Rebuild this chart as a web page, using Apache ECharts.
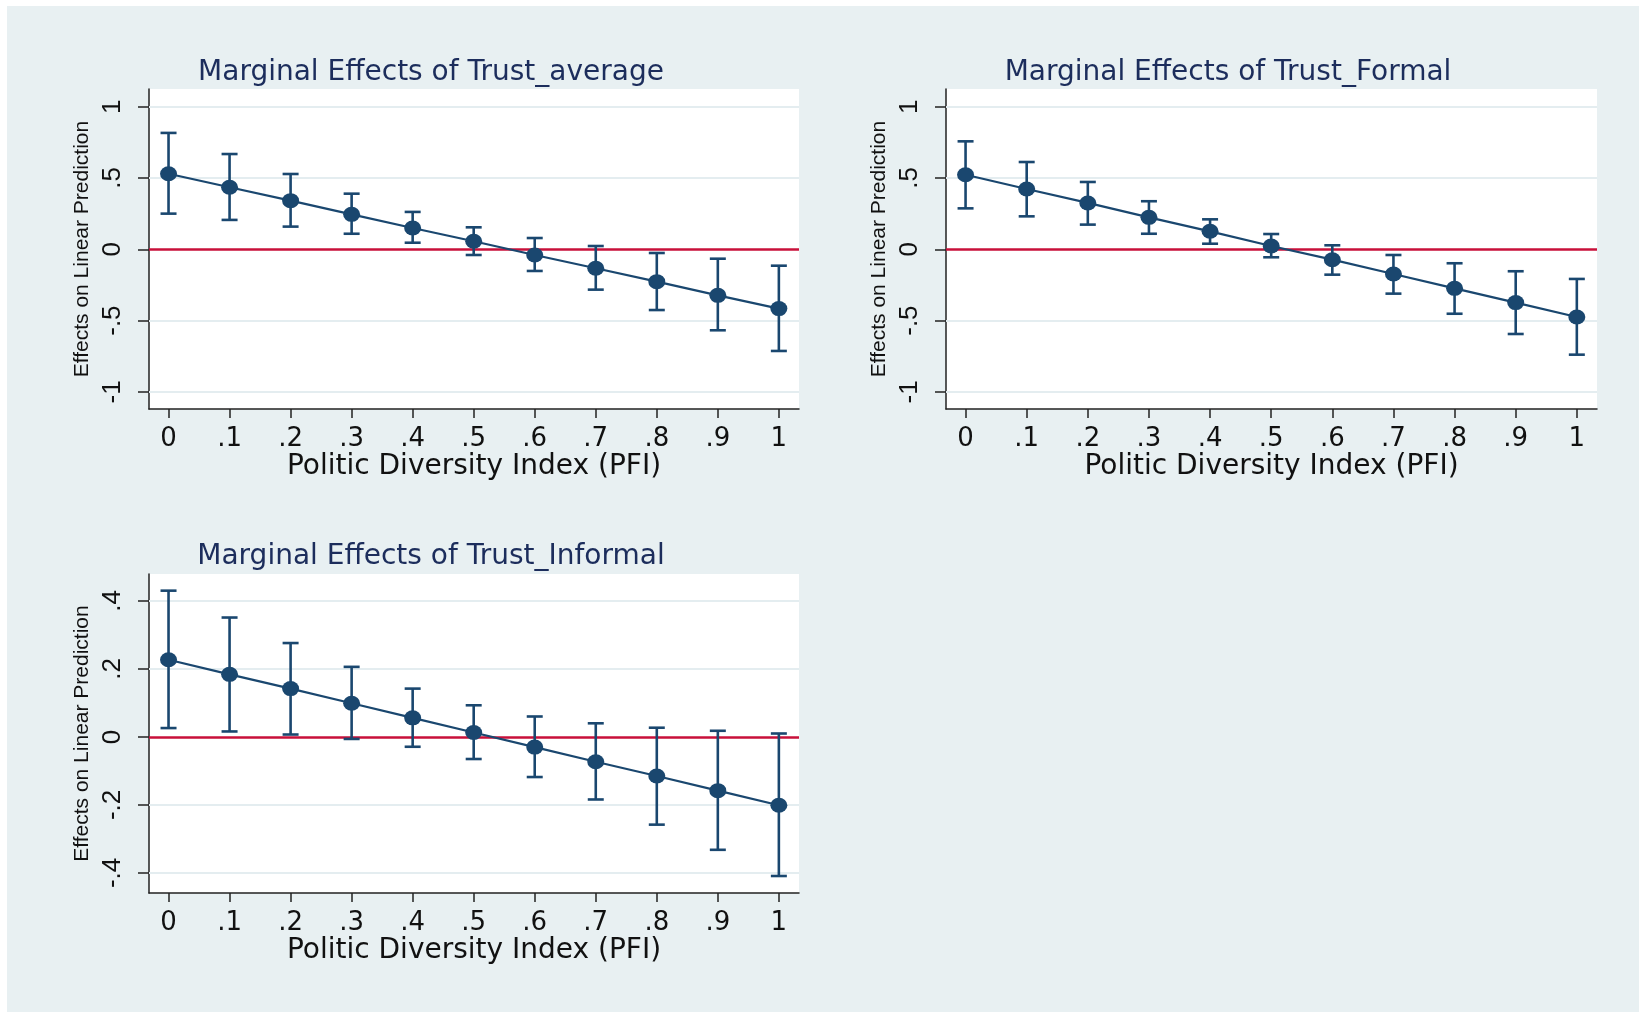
<!DOCTYPE html>
<html>
<head>
<meta charset="utf-8">
<script src="https://cdn.jsdelivr.net/npm/echarts@6/dist/echarts.min.js"></script>
<style>
  html, body { margin: 0; padding: 0; background: #ffffff; }
  #bg { position: absolute; left: 7px; top: 6px; right: 0; bottom: 0; background: #e8f0f2; }
  #chart { position: absolute; left: 0; top: 0; width: 1639px; height: 1012px; }
</style>
</head>
<body>
<div id="bg"></div>
<div id="chart"></div>
<script>
// ---------- data ----------
const pfi = [0, 0.1, 0.2, 0.3, 0.4, 0.5, 0.6, 0.7, 0.8, 0.9, 1];
const xTickLabels = ['0', '.1', '.2', '.3', '.4', '.5', '.6', '.7', '.8', '.9', '1'];

const avgEst = [0.530, 0.435, 0.341, 0.245, 0.149, 0.056, -0.040, -0.133, -0.227, -0.323, -0.416];
const avgHi  = [0.816, 0.668, 0.528, 0.390, 0.262, 0.154, 0.079, 0.023, -0.026, -0.066, -0.115];
const avgLo  = [0.250, 0.206, 0.159, 0.109, 0.046, -0.040, -0.152, -0.283, -0.426, -0.568, -0.713];

const formalEst = [0.523, 0.423, 0.325, 0.224, 0.126, 0.023, -0.073, -0.173, -0.274, -0.374, -0.475];
const formalHi  = [0.757, 0.612, 0.472, 0.337, 0.210, 0.107, 0.028, -0.040, -0.098, -0.154, -0.208];
const formalLo  = [0.287, 0.231, 0.173, 0.109, 0.039, -0.056, -0.178, -0.311, -0.452, -0.594, -0.739];

const informalEst = [0.227, 0.184, 0.142, 0.099, 0.056, 0.013, -0.030, -0.073, -0.115, -0.158, -0.201];
const informalHi  = [0.430, 0.351, 0.276, 0.206, 0.142, 0.093, 0.060, 0.040, 0.027, 0.018, 0.010];
const informalLo  = [0.026, 0.016, 0.007, -0.006, -0.029, -0.065, -0.118, -0.184, -0.258, -0.332, -0.409];

const yTicksWide = [-1, -0.5, 0, 0.5, 1];
const yTickLabelsWide = ['-1', '-.5', '0', '.5', '1'];
const yTicksNarrow = [-0.4, -0.2, 0, 0.2, 0.4];
const yTickLabelsNarrow = ['-.4', '-.2', '0', '.2', '.4'];

const panelTitles = ['Marginal Effects of Trust_average', 'Marginal Effects of Trust_Formal', 'Marginal Effects of Trust_Informal'];
const xAxisTitle = 'Politic Diversity Index (PFI)';
const yAxisTitle = 'Effects on Linear Prediction';

// ---------- styling ----------
const NAVY = '#1a476f';
const RED = '#c8103a';
const GRID = '#e4edf0';
const TITLE = '#1c2d5c';

const panels = [
  { est: avgEst, lo: avgLo, hi: avgHi, yTicks: yTicksWide, yLabels: yTickLabelsWide, yMin: -1.12, yMax: 1.124,
    grid: { left: 149, top: 89, width: 650, height: 320 }, titleX: 431, titleY: 59 },
  { est: formalEst, lo: formalLo, hi: formalHi, yTicks: yTicksWide, yLabels: yTickLabelsWide, yMin: -1.12, yMax: 1.124,
    grid: { left: 946, top: 89, width: 651, height: 320 }, titleX: 1228, titleY: 59 },
  { est: informalEst, lo: informalLo, hi: informalHi, yTicks: yTicksNarrow, yLabels: yTickLabelsNarrow, yMin: -0.459, yMax: 0.479,
    grid: { left: 149, top: 574, width: 650, height: 319 }, titleX: 431, titleY: 543 }
];

function labelFor(ticks, labels) {
  return function (v) {
    for (let i = 0; i < ticks.length; i++) if (Math.abs(ticks[i] - v) < 1e-6) return labels[i];
    return '';
  };
}

const option = {
  animation: false,
  backgroundColor: 'transparent',
  title: [],
  grid: [],
  xAxis: [],
  yAxis: [],
  series: []
};

panels.forEach(function (p, i) {
  option.title.push({
    text: panelTitles[i],
    left: p.titleX, top: p.titleY, textAlign: 'center', padding: 0,
    textStyle: { fontFamily: 'DejaVu Sans', fontSize: 28, fontWeight: 'normal', color: TITLE }
  });
  option.grid.push(Object.assign({ show: true, backgroundColor: '#ffffff', borderWidth: 0 }, p.grid));
  option.xAxis.push({
    type: 'value', gridIndex: i, min: -0.032, max: 1.033,
    axisLine: { show: true, onZero: false, lineStyle: { color: '#222', width: 1.5 } },
    axisTick: { show: true, length: 9, customValues: pfi, lineStyle: { color: '#222', width: 1.5 } },
    axisLabel: { show: true, customValues: pfi, margin: 17, formatter: labelFor(pfi, xTickLabels),
      fontFamily: 'DejaVu Sans', fontSize: 26, color: '#111' },
    splitLine: { show: false },
    name: xAxisTitle, nameLocation: 'middle', nameGap: 44,
    nameTextStyle: { fontFamily: 'DejaVu Sans', fontSize: 28, color: '#111' }
  });
  option.yAxis.push({
    type: 'value', gridIndex: i, min: p.yMin, max: p.yMax,
    axisLine: { show: true, onZero: false, lineStyle: { color: '#222', width: 1.5 } },
    axisTick: { show: true, length: 11, customValues: p.yTicks, lineStyle: { color: '#222', width: 1.5 } },
    axisLabel: { show: true, customValues: p.yTicks, rotate: 90, margin: 23, formatter: labelFor(p.yTicks, p.yLabels),
      fontFamily: 'Liberation Sans', fontSize: 26, color: '#111' },
    splitLine: { show: false },
    name: yAxisTitle, nameLocation: 'middle', nameGap: 56,
    nameTextStyle: { fontFamily: 'Liberation Sans', fontSize: 21, color: '#111' }
  });

  const gridLines = p.yTicks.filter(function (t) { return t !== 0; }).map(function (t) {
    return { yAxis: t, lineStyle: { color: GRID, width: 2, type: 'solid' } };
  });
  gridLines.push({ yAxis: 0, lineStyle: { color: RED, width: 2.5, type: 'solid' } });

  option.series.push({
    type: 'custom', xAxisIndex: i, yAxisIndex: i, z: 3,
    data: pfi.map(function (x, k) { return [x, p.lo[k], p.hi[k]]; }),
    encode: { x: 0, y: [1, 2] },
    renderItem: function (params, api) {
      const x = api.value(0);
      const lo = api.coord([x, api.value(1)]);
      const hi = api.coord([x, api.value(2)]);
      const w = 8;
      const st = { stroke: NAVY, lineWidth: 2.6 };
      return { type: 'group', children: [
        { type: 'line', shape: { x1: lo[0], y1: lo[1], x2: hi[0], y2: hi[1] }, style: st },
        { type: 'line', shape: { x1: hi[0] - w, y1: hi[1], x2: hi[0] + w, y2: hi[1] }, style: st },
        { type: 'line', shape: { x1: lo[0] - w, y1: lo[1], x2: lo[0] + w, y2: lo[1] }, style: st }
      ] };
    }
  });
  option.series.push({
    type: 'line', xAxisIndex: i, yAxisIndex: i, z: 4,
    data: pfi.map(function (x, k) { return [x, p.est[k]]; }),
    symbol: 'circle', symbolSize: [17, 15], showSymbol: true,
    lineStyle: { color: NAVY, width: 2.2 },
    itemStyle: { color: NAVY },
    markLine: {
      silent: true, symbol: ['none', 'none'], z: 1, animation: false,
      label: { show: false },
      data: gridLines
    }
  });
});

const chart = echarts.init(document.getElementById('chart'), null, { renderer: 'canvas' });
chart.setOption(option);
</script>
</body>
</html>
